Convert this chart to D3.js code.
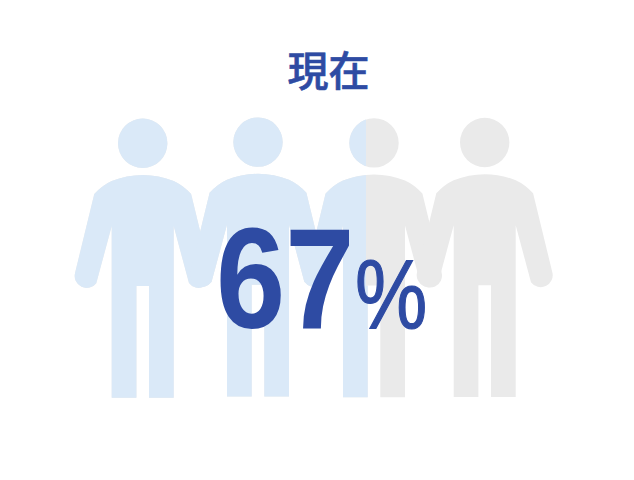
<!DOCTYPE html>
<html>
<head>
<meta charset="utf-8">
<script src="https://cdn.jsdelivr.net/npm/d3@7"></script>
<style>
  html, body { margin: 0; padding: 0; background: #fff; }
  svg { display: block; }
</style>
</head>
<body>
<svg id="chart" width="634" height="480"></svg>
<script>
const title = "現在";
const people = ["a", "b", "c", "d"];
const percent = [67];
const percentDomain = [0, 100];
const suffix = "%";

const svg = d3.select("#chart");
const blue = "#dae9f8", grey = "#eaeaea", ink = "#2e4ba3";

// people are not quite evenly spaced in the picture
const x = d3.scaleOrdinal().domain(people).range([142.7, 258, 374, 484.7]);
const y = d3.scaleOrdinal().domain(people).range([0, -1.2, -0.4, -0.8]);
const fillX = d3.scaleLinear().domain(percentDomain).range([75, 509.3]);

// one person, drawn around x = 0 with y in page pixels
function personPath() {
  const p = d3.path();
  p.moveTo(0, 175);
  p.quadraticCurveTo(16, 175, 31, 181);
  p.quadraticCurveTo(40, 185, 48.4, 194);
  p.lineTo(67.6, 273);
  p.arc(56, 276, 12, -0.25, Math.PI * 0.8);
  p.lineTo(31, 226);
  p.lineTo(31, 397.7);
  p.lineTo(6.3, 397.7);
  p.lineTo(6.3, 286);
  p.lineTo(-6.3, 286);
  p.lineTo(-6.3, 397.7);
  p.lineTo(-31, 397.7);
  p.lineTo(-31, 226);
  p.lineTo(-46.4, 283);
  p.arc(-56, 276, 12, Math.PI * 0.2, Math.PI + 0.25);
  p.lineTo(-48.4, 194);
  p.quadraticCurveTo(-40, 185, -31, 181);
  p.quadraticCurveTo(-16, 175, 0, 175);
  p.closePath();
  p.moveTo(24.7, 143.3);
  p.arc(0, 143.3, 24.7, 0, Math.PI * 2);
  p.closePath();
  return p.toString();
}

// the fill edge, the left leg of the split person stays whole
const clip = svg.append("clipPath").attr("id", "filled");
clip.append("rect")
  .attr("x", 0).attr("y", 0)
  .attr("width", fillX(percent[0])).attr("height", 286);
clip.append("rect")
  .attr("x", 0).attr("y", 286)
  .attr("width", fillX(percent[0]) + 2).attr("height", 194);

const layers = [
  { color: grey, clip: null },
  { color: blue, clip: "url(#filled)" }
];

layers.forEach(l => {
  svg.append("g")
    .attr("clip-path", l.clip)
    .selectAll("path")
    .data(people)
    .join("path")
    .attr("transform", d => `translate(${x(d)},${y(d)})`)
    .attr("d", personPath())
    .attr("fill", l.color);
});

svg.append("text")
  .attr("x", 328.5).attr("y", 86)
  .attr("text-anchor", "middle")
  .attr("font-family", "'Noto Sans CJK JP', sans-serif")
  .attr("font-weight", 500)
  .attr("font-size", 41)
  .attr("fill", ink)
  .attr("stroke", ink)
  .attr("stroke-width", 0.6)
  .text(title);

// the big figures are squeezed sideways in the reference
svg.append("text")
  .attr("transform", "translate(216,328) scale(0.87,1)")
  .attr("font-family", "'Liberation Sans', Arial, sans-serif")
  .attr("font-weight", 700)
  .attr("font-size", 143)
  .attr("fill", ink)
  .text(percent[0]);

svg.append("text")
  .attr("transform", "translate(355,328) scale(0.83,1)")
  .attr("font-family", "'Liberation Sans', Arial, sans-serif")
  .attr("font-size", 98)
  .attr("fill", ink)
  .attr("stroke", ink)
  .attr("stroke-width", 1.2)
  .text(suffix);
</script>
</body>
</html>
